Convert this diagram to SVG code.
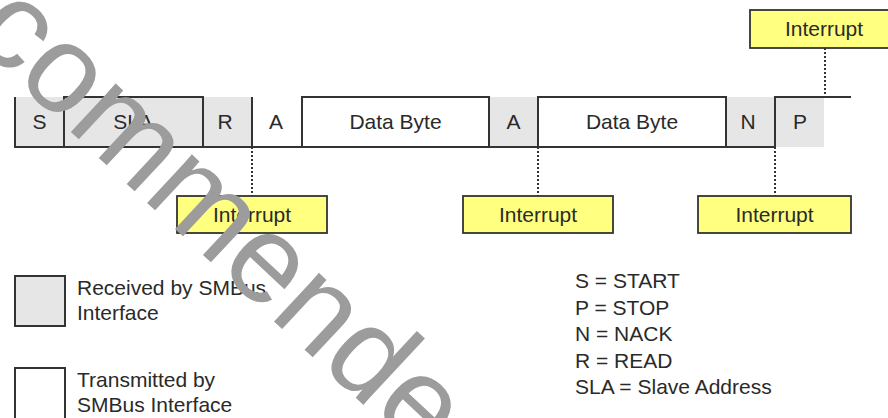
<svg xmlns="http://www.w3.org/2000/svg" width="888" height="418" viewBox="0 0 888 418">
<style>
.t{font-family:"Liberation Sans",Arial,sans-serif;font-size:21px;fill:#2a2a2a}
.c{text-anchor:middle}
.ln{fill:none;stroke:#333;stroke-width:2}
.dot{fill:none;stroke:#333;stroke-width:2;stroke-dasharray:2 2}
.rx{fill:#e6e6e6}
.irq{fill:#ffff80;stroke:#333;stroke-width:1.8}
</style>
<rect width="888" height="418" fill="#fff"/>
<g id="bus">
<rect class="rx" x="15" y="97" width="237" height="50"/>
<rect class="rx" x="489" y="97" width="49" height="50"/>
<rect class="rx" x="726" y="97" width="98" height="50"/>
<path class="ln" d="M15,97 V147 H775 M64,147 V97 H203 V147 M252,97 V147 M302,147 V97 H489 V147 M538,147 V97 H726 V147 M775,147 V97 H851"/>
<text class="t c" x="39.5" y="129">S</text>
<text class="t c" x="133" y="129">SLA</text>
<text class="t c" x="225" y="129">R</text>
<text class="t c" x="276" y="129">A</text>
<text class="t c" x="395.5" y="129">Data Byte</text>
<text class="t c" x="513.5" y="129">A</text>
<text class="t c" x="632" y="129">Data Byte</text>
<text class="t c" x="748" y="129">N</text>
<text class="t c" x="800" y="129">P</text>
</g>
<g id="connectors">
<path class="dot" d="M252,147 V196 M538,147 V196 M775,147 V196 M825,48 V97"/>
</g>
<g id="irq1"><rect class="irq" x="177" y="196" width="150" height="37"/><text class="t c" x="252" y="222">Interrupt</text></g>
<g id="irq2"><rect class="irq" x="463" y="196" width="150" height="37"/><text class="t c" x="538" y="222">Interrupt</text></g>
<g id="irq3"><rect class="irq" x="698" y="196" width="153" height="37"/><text class="t c" x="774.5" y="222">Interrupt</text></g>
<g id="irq4"><rect class="irq" x="750" y="10" width="150" height="38"/><text class="t c" x="824" y="36">Interrupt</text></g>
<g id="legend-rx"><rect class="rx" x="15" y="276" width="50" height="50" stroke="#333" stroke-width="2"/><text class="t" x="77" y="295">Received by SMBus</text><text class="t" x="77" y="320">Interface</text></g>
<g id="legend-tx"><rect x="15" y="368" width="50" height="60" fill="#fff" stroke="#333" stroke-width="2"/><text class="t" x="77" y="387">Transmitted by</text><text class="t" x="77" y="412">SMBus Interface</text></g>
<g id="key">
<text class="t" x="575" y="288">S = START</text>
<text class="t" x="575" y="314.5">P = STOP</text>
<text class="t" x="575" y="341">N = NACK</text>
<text class="t" x="575" y="367.5">R = READ</text>
<text class="t" x="575" y="394">SLA = Slave Address</text>
</g>
<text x="-32" y="36" transform="rotate(43 -32 36)" font-family="Liberation Sans,Arial,sans-serif" font-size="125" fill="#9c9c9c">commended</text>
</svg>
